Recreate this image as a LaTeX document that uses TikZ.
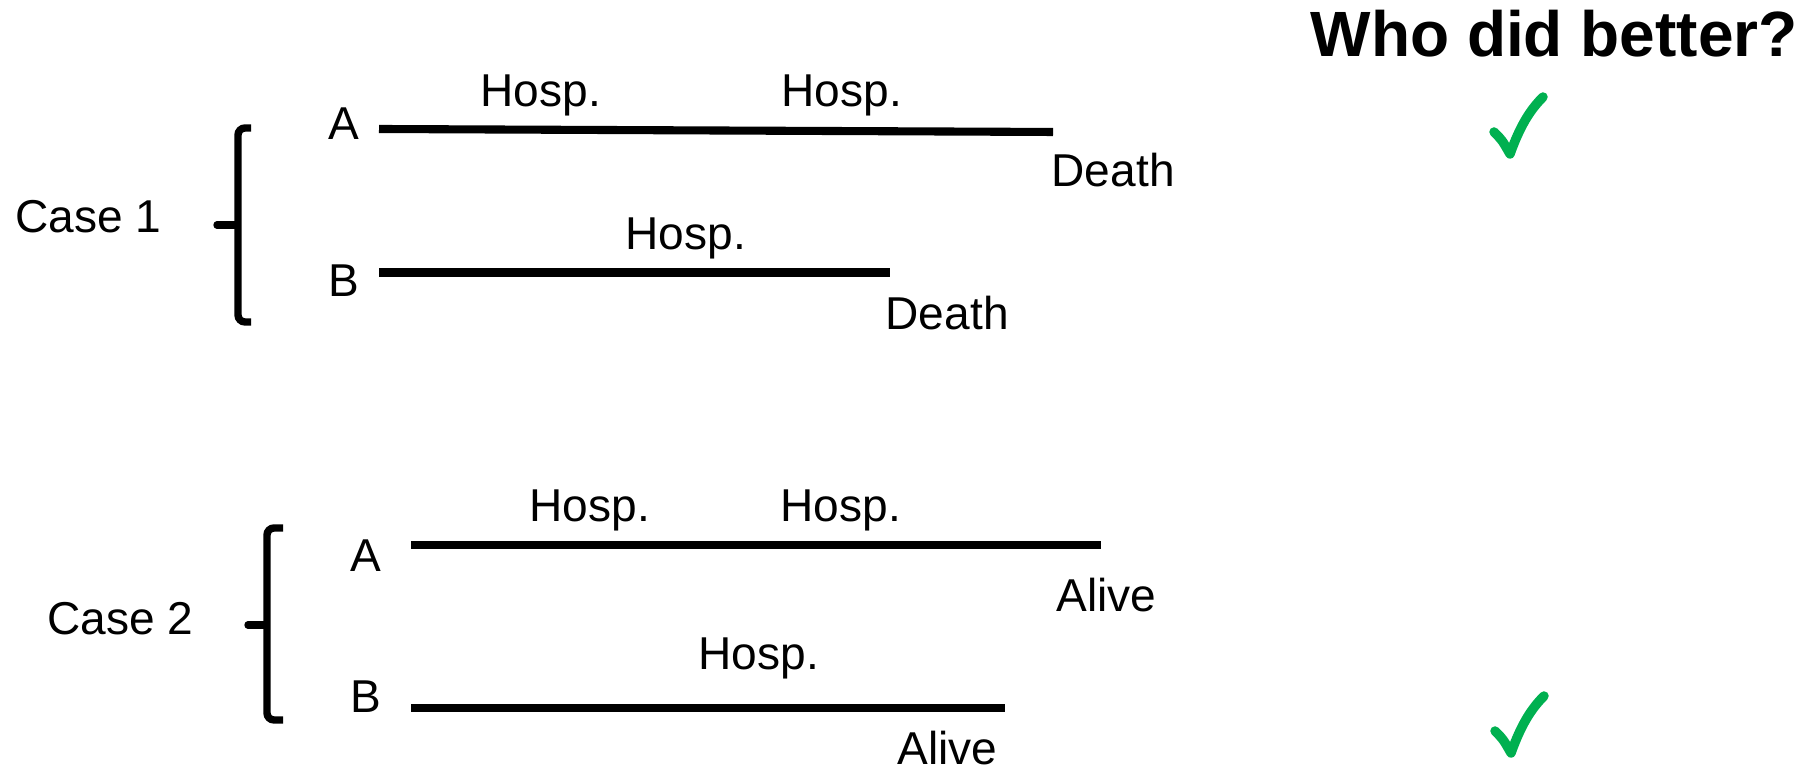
\documentclass[tikz,border=0pt]{standalone}
\usepackage{fontspec}
\setmainfont{Liberation Sans}
\definecolor{checkgreen}{RGB}{0,176,80}
\begin{document}
\begin{tikzpicture}[x=0.01cm,y=-0.01cm,
  lbl/.style={anchor=base west,inner sep=0pt,font=\fontsize{13.1pt}{15pt}\selectfont},
  title/.style={anchor=base west,inner sep=0pt,font=\fontsize{18.2pt}{21pt}\selectfont\bfseries},
  timeline/.style={line width=2.3pt},
  bracket/.style={line width=2.1pt,rounded corners=2pt},
  greencheck/.pic={\draw[checkgreen,line width=2.7pt,line cap=round,line join=round]
     (-16,-22) .. controls (-8,-14) .. (0,0) .. controls (10,-28) and (20,-44) .. (33,-57);}
]
\useasboundingbox (0,0) rectangle (1800,768);

% title
\node[title] (title) at (1310,57) {Who did better?};

% ---------- Case 1 ----------
\node[lbl] (case1) at (15,233) {Case 1};
\coordinate (b1top) at (251,128);
\coordinate (b1bot) at (251,322);
\coordinate (b1mid) at (217,225);
\draw[bracket] (b1top) -- (238,128) -- (238,322) -- (b1bot);
\draw[line width=2.1pt,line cap=round] (b1mid) -- (236,225);

\node[lbl] (a1) at (328,140) {A};
\coordinate (a1s) at (379,129);
\coordinate (a1e) at (1053,132);
\draw[timeline] (a1s) -- (a1e);
\node[lbl] (a1h1) at (480,107) {Hosp.};
\node[lbl] (a1h2) at (781,107) {Hosp.};
\node[lbl] (a1d) at (1051,187) {Death};

\node[lbl] (b1) at (328,297) {B};
\coordinate (b1s) at (379,272.5);
\coordinate (b1e) at (890,272.5);
\draw[timeline] (b1s) -- (b1e);
\node[lbl] (b1h) at (625,250) {Hosp.};
\node[lbl] (b1d) at (885,330) {Death};

% ---------- Case 2 ----------
\node[lbl] (case2) at (47,635) {Case 2};
\coordinate (b2top) at (283,528);
\coordinate (b2bot) at (283,720);
\coordinate (b2mid) at (248,625);
\draw[bracket] (b2top) -- (267,528) -- (267,720) -- (b2bot);
\draw[line width=2.1pt,line cap=round] (b2mid) -- (265,625);

\node[lbl] (a2) at (350,572) {A};
\coordinate (a2s) at (411,545);
\coordinate (a2e) at (1101,545);
\draw[timeline] (a2s) -- (a2e);
\node[lbl] (a2h1) at (529,522) {Hosp.};
\node[lbl] (a2h2) at (780,522) {Hosp.};
\node[lbl] (a2a) at (1056,612) {Alive};

\node[lbl] (b2) at (350,713) {B};
\coordinate (b2s) at (411,708);
\coordinate (b2e) at (1005,708);
\draw[timeline] (b2s) -- (b2e);
\node[lbl] (b2h) at (698,670) {Hosp.};
\node[lbl] (b2a) at (897,765) {Alive};

% checks
\pic at (1510,154) {greencheck};
\pic at (1511,753) {greencheck};
\end{tikzpicture}
\end{document}
